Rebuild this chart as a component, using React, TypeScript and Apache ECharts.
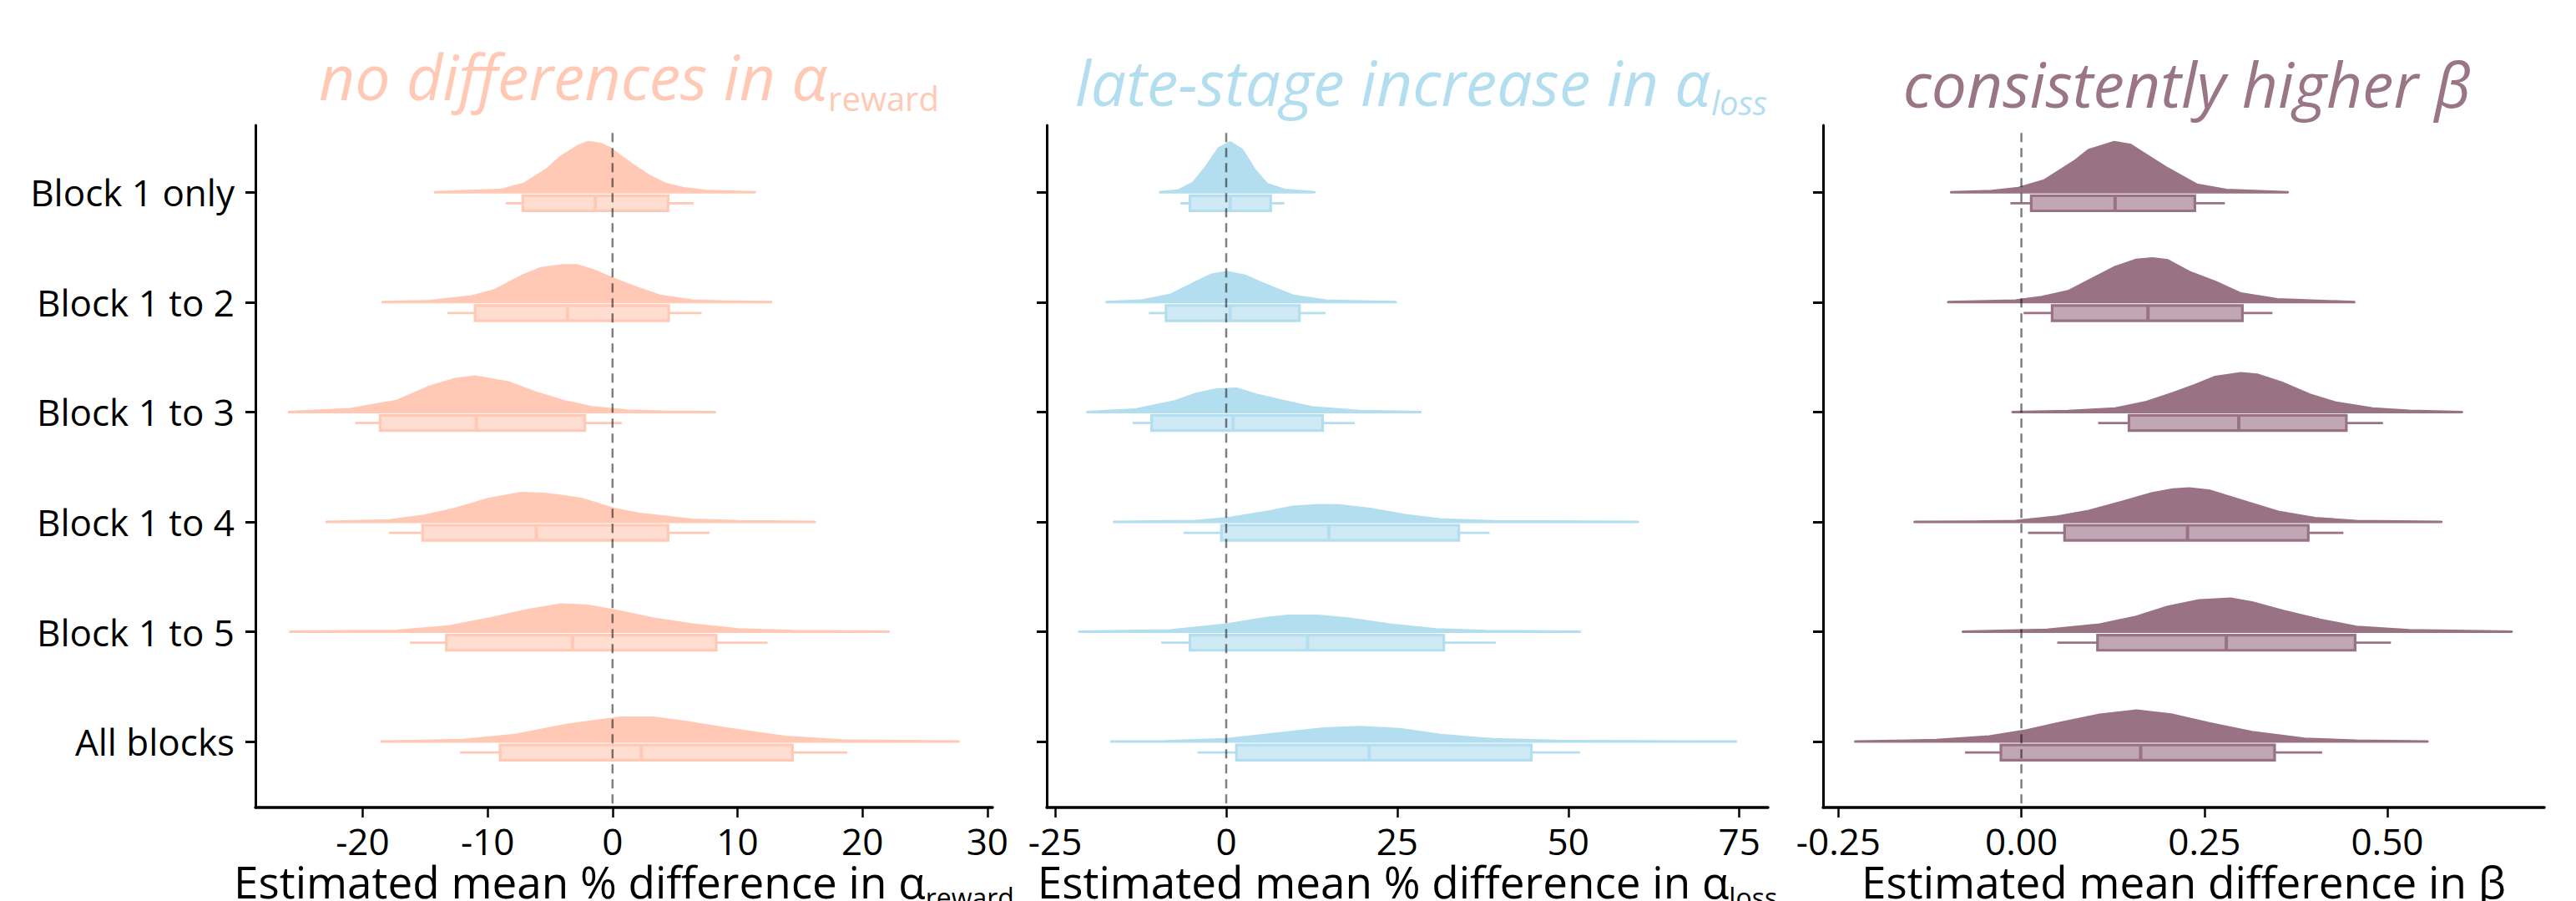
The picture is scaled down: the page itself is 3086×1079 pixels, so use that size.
import React, { useEffect, useRef } from 'react';
import * as echarts from 'echarts';

const categories = ['Block 1 only', 'Block 1 to 2', 'Block 1 to 3', 'Block 1 to 4', 'Block 1 to 5', 'All blocks'];
const rowValues = [0, 1, 2, 3, 4, 5];

// density curves: [value, height in row units]
const rewardDensity = [
  [[-14.2, 0], [-9.0, 0.02], [-7.1, 0.076], [-5.2, 0.213], [-4.2, 0.317], [-2.8, 0.418], [-1.95, 0.456], [-0.95, 0.44], [-0.2, 0.4], [1.6, 0.25], [2.9, 0.152], [4.25, 0.076], [5.6, 0.038], [7.5, 0.012], [11.4, 0]],
  [[-18.4, 0], [-14.7, 0.008], [-11.25, 0.052], [-9.4, 0.11], [-7.3, 0.236], [-5.7, 0.309], [-4.1, 0.334], [-2.8, 0.334], [-1.5, 0.288], [0.1, 0.21], [1.95, 0.131], [3.8, 0.058], [6.4, 0.013], [9.1, 0.004], [12.7, 0]],
  [[-25.9, 0], [-21.0, 0.026], [-17.3, 0.099], [-14.7, 0.228], [-12.6, 0.3], [-11.0, 0.322], [-8.35, 0.27], [-6.2, 0.178], [-3.9, 0.099], [-1.5, 0.04], [1.16, 0.013], [4.0, 0.003], [8.2, 0]],
  [[-22.9, 0], [-17.9, 0.013], [-15.2, 0.052], [-12.6, 0.118], [-9.9, 0.209], [-7.3, 0.261], [-5.5, 0.255], [-4.1, 0.236], [-2.5, 0.209], [0.1, 0.118], [2.2, 0.071], [6.4, 0.018], [10.1, 0.005], [16.2, 0]],
  [[-25.8, 0], [-17.3, 0.008], [-13.1, 0.047], [-9.9, 0.118], [-6.8, 0.196], [-4.1, 0.248], [-2.0, 0.236], [0.63, 0.182], [3.3, 0.118], [6.4, 0.065], [10.1, 0.021], [14.4, 0.005], [22.1, 0]],
  [[-18.5, 0], [-12.0, 0.013], [-7.8, 0.06], [-3.6, 0.152], [0.63, 0.217], [3.3, 0.217], [5.9, 0.178], [9.1, 0.118], [13.8, 0.042], [18.6, 0.008], [27.7, 0]],
];
const lossDensity = [
  [[-9.67, 0], [-7.05, 0.015], [-4.8, 0.087], [-2.95, 0.23], [-1.08, 0.4], [0.57, 0.453], [2.3, 0.388], [4.15, 0.204], [6.0, 0.073], [8.6, 0.021], [12.9, 0]],
  [[-17.5, 0], [-12.6, 0.013], [-8.2, 0.065], [-4.4, 0.182], [-2.2, 0.248], [0.04, 0.275], [2.7, 0.241], [5.3, 0.17], [9.75, 0.058], [15.0, 0.011], [24.8, 0]],
  [[-20.3, 0], [-13.4, 0.021], [-7.4, 0.099], [-4.4, 0.165], [-1.45, 0.204], [1.5, 0.212], [4.5, 0.155], [7.5, 0.112], [12.7, 0.04], [19.5, 0.008], [28.4, 0]],
  [[-16.4, 0], [-4.4, 0.008], [0.04, 0.031], [6.0, 0.091], [9.75, 0.136], [13.5, 0.151], [16.5, 0.149], [21.0, 0.118], [26.2, 0.06], [31.4, 0.021], [38.9, 0.005], [60.2, 0]],
  [[-21.5, 0], [-8.2, 0.011], [0.04, 0.065], [6.0, 0.125], [9.0, 0.144], [13.5, 0.144], [18.0, 0.118], [23.9, 0.065], [30.7, 0.021], [38.1, 0.005], [51.7, 0]],
  [[-16.8, 0], [-8.9, 0.002], [0.04, 0.021], [7.5, 0.073], [14.2, 0.118], [19.5, 0.131], [25.4, 0.112], [31.4, 0.06], [38.9, 0.021], [49.3, 0.005], [74.5, 0]],
];
const betaDensity = [
  [[-0.096, 0], [-0.04, 0.012], [-0.004, 0.038], [0.031, 0.106], [0.074, 0.289], [0.092, 0.385], [0.127, 0.456], [0.149, 0.431], [0.17, 0.342], [0.197, 0.228], [0.24, 0.068], [0.28, 0.021], [0.364, 0]],
  [[-0.1, 0], [-0.008, 0.013], [0.028, 0.047], [0.064, 0.099], [0.092, 0.196], [0.128, 0.319], [0.157, 0.385], [0.179, 0.397], [0.2, 0.38], [0.229, 0.275], [0.265, 0.183], [0.3, 0.078], [0.35, 0.026], [0.455, 0]],
  [[-0.012, 0], [0.064, 0.008], [0.128, 0.031], [0.171, 0.091], [0.207, 0.17], [0.236, 0.241], [0.265, 0.319], [0.3, 0.353], [0.322, 0.34], [0.358, 0.261], [0.394, 0.157], [0.43, 0.084], [0.48, 0.031], [0.53, 0.011], [0.602, 0]],
  [[-0.146, 0], [-0.066, 0.002], [-0.008, 0.008], [0.049, 0.047], [0.092, 0.099], [0.136, 0.178], [0.179, 0.261], [0.207, 0.295], [0.229, 0.303], [0.258, 0.282], [0.308, 0.178], [0.351, 0.091], [0.401, 0.034], [0.458, 0.008], [0.574, 0]],
  [[-0.08, 0], [0.035, 0.018], [0.107, 0.065], [0.157, 0.136], [0.2, 0.227], [0.243, 0.285], [0.286, 0.3], [0.315, 0.266], [0.358, 0.188], [0.408, 0.109], [0.458, 0.044], [0.53, 0.013], [0.67, 0]],
  [[-0.227, 0], [-0.116, 0.013], [-0.044, 0.047], [0.006, 0.099], [0.049, 0.165], [0.107, 0.243], [0.157, 0.282], [0.207, 0.243], [0.258, 0.165], [0.315, 0.086], [0.387, 0.026], [0.458, 0.008], [0.555, 0]],
];

// boxes: [whisker low, q1, median, q3, whisker high]
const rewardBoxes = [
  [-8.56, -7.18, -1.37, 4.44, 6.5],
  [-13.2, -11.0, -3.6, 4.49, 7.13],
  [-20.6, -18.6, -10.9, -2.22, 0.74],
  [-17.9, -15.2, -6.1, 4.44, 7.77],
  [-16.2, -13.3, -3.2, 8.3, 12.4],
  [-12.2, -9.0, 2.3, 14.4, 18.8],
];
const lossBoxes = [
  [-6.7, -5.3, 0.57, 6.5, 8.5],
  [-11.3, -8.8, 0.57, 10.7, 14.5],
  [-13.7, -10.9, 1.0, 14.1, 18.8],
  [-6.2, -0.7, 15.0, 34.0, 38.5],
  [-9.5, -5.3, 11.9, 31.8, 39.4],
  [-4.2, 1.5, 20.9, 44.6, 51.7],
];
const betaBoxes = [
  [-0.015, 0.0134, 0.128, 0.237, 0.278],
  [0.003, 0.042, 0.173, 0.302, 0.343],
  [0.105, 0.147, 0.297, 0.444, 0.494],
  [0.009, 0.059, 0.227, 0.392, 0.44],
  [0.049, 0.104, 0.28, 0.456, 0.505],
  [-0.077, -0.028, 0.163, 0.346, 0.411],
];

const rewardTicks = [-20, -10, 0, 10, 20, 30];
const lossTicks = [-25, 0, 25, 50, 75];
const betaTicks = [-0.25, 0, 0.25, 0.5];

const rewardRange = [-28.58, 30.41];
const lossRange = [-26.23, 79.19];
const betaRange = [-0.271, 0.7145];
const rowRange = [-0.61, 5.6];
const zeroLine = 0;

const titleMain = ['no differences in α', 'late-stage increase in α', 'consistently higher β'];
const titleSub = ['reward', 'loss', ''];
const xLabelMain = ['Estimated mean % difference in α', 'Estimated mean % difference in α', 'Estimated mean difference in β'];
const xLabelSub = ['reward', 'loss', ''];

const FONT = 'Open Sans';

const panels = [
  { density: rewardDensity, boxes: rewardBoxes, ticks: rewardTicks, range: rewardRange, color: '#FFC9B5', boxFill: '#FFDDD0', title: '#FFC9B5', fmt: (v: number) => String(v), grid: { left: 306, top: 150, width: 883, height: 817 }, titleCx: 753, titleBase: 120.5, subItalic: false },
  { density: lossDensity, boxes: lossBoxes, ticks: lossTicks, range: lossRange, color: '#B3DEF0', boxFill: '#CFE9F5', title: '#B3DEF0', fmt: (v: number) => String(v), grid: { left: 1254, top: 150, width: 864, height: 817 }, titleCx: 1702, titleBase: 126.8, subItalic: true },
  { density: betaDensity, boxes: betaBoxes, ticks: betaTicks, range: betaRange, color: '#997384', boxFill: '#C1A7B4', title: '#9A7586', fmt: (v: number) => v.toFixed(2), grid: { left: 2184, top: 150, width: 864, height: 817 }, titleCx: 2620, titleBase: 128.8, subItalic: false },
];

const BOX_OFFSET = 0.1;
const BOX_HALF = 0.069;
const CENTRAL = 0.388; // central baseline offset (em) for Open Sans

let measureCtx: CanvasRenderingContext2D | null = null;
function textWidth(text: string, font: string): number {
  if (!measureCtx) measureCtx = document.createElement('canvas').getContext('2d');
  if (!measureCtx) return text.length * 20;
  measureCtx.font = font;
  return measureCtx.measureText(text).width;
}

function labelGraphics(main: string, sub: string, cx: number, base: number, size: number, subSize: number, subDrop: number, color: string, italic: boolean, subItalic: boolean) {
  const mainFont = `${italic ? 'italic ' : ''}${size}px "${FONT}"`;
  const subFont = `${subItalic ? 'italic ' : ''}${subSize}px "${FONT}"`;
  const wMain = textWidth(main, mainFont);
  const wSub = sub ? textWidth(sub, subFont) : 0;
  const left = cx - (wMain + wSub) / 2;
  const els: any[] = [
    {
      type: 'text', x: left, y: base - CENTRAL * size, silent: true,
      style: { text: main, fill: color, fontSize: size, fontFamily: FONT, fontStyle: italic ? 'italic' : 'normal', align: 'left', verticalAlign: 'middle' },
    },
  ];
  if (sub) {
    els.push({
      type: 'text', x: left + wMain + (italic ? 1 : 0), y: base + subDrop - CENTRAL * subSize, silent: true,
      style: { text: sub, fill: color, fontSize: subSize, fontFamily: FONT, fontStyle: subItalic ? 'italic' : 'normal', align: 'left', verticalAlign: 'middle' },
    });
  }
  return els;
}

export default function App() {
  const ref = useRef<HTMLDivElement>(null);
  useEffect(() => {
    if (!ref.current) return;
    const chart = echarts.init(ref.current, undefined, { renderer: 'svg' });

    const grids = panels.map((p) => ({ ...p.grid, containLabel: false }));
    const xAxes = panels.map((p, k) => ({
      type: 'value', gridIndex: k, min: p.range[0], max: p.range[1],
      splitLine: { show: false },
      axisLine: { show: true, onZero: false, lineStyle: { color: '#000', width: 3.5 } },
      axisTick: { show: true, length: 12, customValues: p.ticks, lineStyle: { color: '#000', width: 2.5 } },
      axisLabel: { show: true, customValues: p.ticks, formatter: (v: number) => p.fmt(v), margin: 18, fontSize: 44, fontFamily: FONT, color: '#000' },
    }));
    const yAxes = panels.map((p, k) => ({
      type: 'value', gridIndex: k, min: rowRange[0], max: rowRange[1], inverse: true,
      splitLine: { show: false },
      axisLine: { show: true, onZero: false, lineStyle: { color: '#000', width: 3 } },
      axisTick: { show: true, length: 12, customValues: rowValues, lineStyle: { color: '#000', width: 3 } },
      axisLabel: { show: k === 0, customValues: rowValues, formatter: (v: number) => categories[Math.round(v)] ?? '', margin: 25, fontSize: 44, fontFamily: FONT, color: '#000' },
    }));

    const series: any[] = [];
    panels.forEach((p, k) => {
      series.push({
        type: 'custom', xAxisIndex: k, yAxisIndex: k, z: 2,
        data: rowValues.map((r) => [p.boxes[r][2], r]),
        renderItem: (params: any, api: any) => {
          const i = params.dataIndex;
          const pts = p.density[i].map(([x, h]: number[]) => api.coord([x, i - h]));
          const [wlo, q1, med, q3, whi] = p.boxes[i];
          const X = (v: number) => api.coord([v, i])[0];
          const yc = api.coord([0, i + BOX_OFFSET])[1];
          const yT = api.coord([0, i + BOX_OFFSET - BOX_HALF])[1];
          const yB = api.coord([0, i + BOX_OFFSET + BOX_HALF])[1];
          return {
            type: 'group',
            children: [
              { type: 'polygon', shape: { points: pts }, style: { fill: p.color, stroke: p.color, lineWidth: 3, lineJoin: 'round', lineCap: 'round' } },
              { type: 'line', shape: { x1: X(wlo), y1: yc, x2: X(q1), y2: yc }, style: { stroke: p.color, lineWidth: 2.8 } },
              { type: 'line', shape: { x1: X(q3), y1: yc, x2: X(whi), y2: yc }, style: { stroke: p.color, lineWidth: 2.8 } },
              { type: 'rect', shape: { x: X(q1), y: yT, width: X(q3) - X(q1), height: yB - yT }, style: { fill: p.boxFill, stroke: p.color, lineWidth: 3.2 } },
              { type: 'line', shape: { x1: X(med), y1: yT, x2: X(med), y2: yB }, style: { stroke: p.color, lineWidth: 4 } },
            ],
          };
        },
      });
      series.push({
        type: 'custom', xAxisIndex: k, yAxisIndex: k, z: 5,
        data: [[zeroLine, 0]],
        renderItem: (params: any, api: any) => {
          const a = api.coord([zeroLine, rowRange[0] + 0.07]);
          const b = api.coord([zeroLine, rowRange[1]]);
          return { type: 'line', shape: { x1: a[0], y1: a[1], x2: b[0], y2: b[1] }, style: { stroke: 'rgba(0,0,0,0.5)', lineWidth: 2.5, lineDash: [11, 7] } };
        },
      });
    });

    const graphics: any[] = [];
    panels.forEach((p, k) => {
      graphics.push(...labelGraphics(titleMain[k], titleSub[k], p.titleCx, p.titleBase, 75, 40, k === 0 ? 12.3 : 11, p.title, true, p.subItalic));
      const cx = p.grid.left + p.grid.width / 2;
      graphics.push(...labelGraphics(xLabelMain[k], xLabelSub[k], cx, 1076, 53, 32, 11, '#000', false, false));
    });

    chart.setOption({
      animation: false,
      backgroundColor: '#fff',
      grid: grids,
      xAxis: xAxes,
      yAxis: yAxes,
      series,
      graphic: { elements: graphics },
    });
    return () => chart.dispose();
  }, []);
  return <div ref={ref} style={{ position: 'absolute', left: 0, top: 0, width: 3086, height: 1079, background: '#fff' }} />;
}
